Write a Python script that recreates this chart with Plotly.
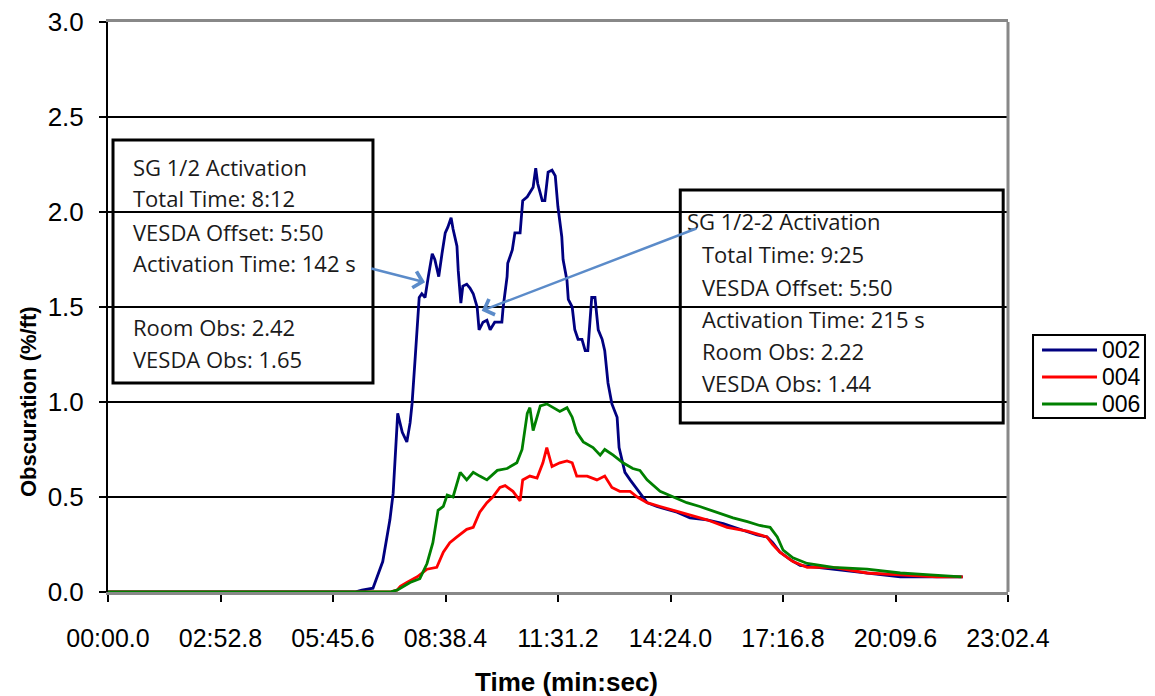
import plotly.graph_objects as go

# Obscuration readings (%/ft) against elapsed time (seconds)
t_002 = [0, 379, 390, 407, 422, 433, 438, 441, 445, 452, 459, 464, 467, 472, 478, 482, 487, 492,
         498, 502, 508, 513, 518, 522, 527, 530, 536, 538, 542, 545, 551, 556, 561, 567, 570, 576,
         582, 587, 594, 605, 607, 613, 614, 621, 625, 633, 637, 644, 648, 653, 657, 660, 667, 671,
         676, 682, 687, 691, 697, 699, 705, 707, 713, 717, 722, 728, 733, 737, 743, 748, 753, 759,
         763, 768, 774, 782, 785, 794, 802, 813, 828, 843, 874, 894, 920, 945, 971, 997, 1012,
         1021, 1032, 1048, 1063, 1114, 1166, 1217, 1283, 1313]
v_002 = [0.0, 0.0, 0.01, 0.02, 0.16, 0.38, 0.52, 0.73, 0.94, 0.84, 0.79, 0.89, 0.99, 1.24, 1.55,
         1.57, 1.55, 1.66, 1.78, 1.75, 1.66, 1.78, 1.89, 1.92, 1.97, 1.91, 1.82, 1.69, 1.52, 1.61,
         1.62, 1.60, 1.57, 1.50, 1.38, 1.42, 1.43, 1.38, 1.42, 1.42, 1.50, 1.66, 1.73, 1.80, 1.89,
         1.89, 2.06, 2.08, 2.10, 2.13, 2.23, 2.15, 2.06, 2.06, 2.21, 2.22, 2.19, 2.03, 1.87, 1.75,
         1.64, 1.54, 1.50, 1.38, 1.33, 1.33, 1.27, 1.27, 1.55, 1.55, 1.38, 1.33, 1.27, 1.10, 0.99,
         0.92, 0.76, 0.63, 0.59, 0.54, 0.47, 0.45, 0.42, 0.39, 0.38, 0.36, 0.33, 0.30, 0.29, 0.26,
         0.21, 0.17, 0.14, 0.12, 0.10, 0.08, 0.08, 0.08]

t_004 = [0, 433, 444, 449, 459, 475, 490, 505, 515, 525, 536, 551, 561, 571, 582, 591, 602, 610,
         622, 633, 637, 648, 659, 668, 674, 682, 694, 705, 713, 720, 736, 751, 763, 774, 786, 802,
         813, 828, 848, 868, 889, 920, 951, 982, 1012, 1021, 1032, 1052, 1074, 1114, 1166, 1217,
         1273, 1313]
v_004 = [0.0, 0.0, 0.01, 0.03, 0.05, 0.08, 0.12, 0.13, 0.21, 0.26, 0.29, 0.33, 0.34, 0.42, 0.47,
         0.50, 0.55, 0.56, 0.53, 0.48, 0.59, 0.61, 0.60, 0.68, 0.76, 0.66, 0.68, 0.69, 0.68, 0.61,
         0.61, 0.59, 0.61, 0.55, 0.53, 0.53, 0.50, 0.47, 0.45, 0.43, 0.41, 0.38, 0.34, 0.32, 0.29,
         0.25, 0.21, 0.16, 0.13, 0.13, 0.10, 0.09, 0.08, 0.08]

t_006 = [0, 433, 444, 464, 479, 490, 499, 507, 515, 521, 530, 541, 551, 561, 571, 582, 598, 613,
         628, 636, 644, 648, 653, 664, 674, 684, 694, 705, 713, 720, 730, 745, 756, 763, 776, 791,
         806, 817, 828, 848, 868, 889, 909, 935, 960, 982, 1001, 1017, 1028, 1037, 1052, 1074,
         1114, 1166, 1217, 1263, 1311]
v_006 = [0.0, 0.0, 0.01, 0.05, 0.07, 0.15, 0.26, 0.43, 0.45, 0.51, 0.50, 0.63, 0.59, 0.63, 0.61,
         0.59, 0.64, 0.65, 0.68, 0.75, 0.94, 0.97, 0.85, 0.98, 0.99, 0.97, 0.95, 0.97, 0.92, 0.84,
         0.79, 0.76, 0.72, 0.75, 0.72, 0.68, 0.65, 0.64, 0.59, 0.53, 0.50, 0.47, 0.45, 0.42, 0.39,
         0.37, 0.35, 0.34, 0.29, 0.22, 0.18, 0.15, 0.13, 0.12, 0.10, 0.09, 0.08]

series_names = ["002", "004", "006"]
series_colors = ["#000080", "#FF0000", "#008000"]

x_tick_vals = [0, 172.8, 345.6, 518.4, 691.2, 864.0, 1036.8, 1209.6, 1382.4]
x_tick_text = ["00:00.0", "02:52.8", "05:45.6", "08:38.4", "11:31.2",
               "14:24.0", "17:16.8", "20:09.6", "23:02.4"]

box1_lines = ["SG 1/2 Activation", "Total Time: 8:12", "VESDA Offset: 5:50",
              "Activation Time: 142 s", "Room Obs: 2.42", "VESDA Obs: 1.65"]
box1_rows = [2.237, 2.074, 1.895, 1.732, 1.395, 1.226]
box2_lines = ["SG 1/2-2 Activation", "Total Time: 9:25", "VESDA Offset: 5:50",
              "Activation Time: 215 s", "Room Obs: 2.22", "VESDA Obs: 1.44"]
box2_rows = [1.953, 1.779, 1.605, 1.437, 1.268, 1.100]

fig = go.Figure()
for t, v, name, color in zip([t_002, t_004, t_006], [v_002, v_004, v_006],
                             series_names, series_colors):
    fig.add_trace(go.Scatter(x=t, y=v, mode="lines", name=name,
                             line=dict(color=color, width=2.8)))

box_font = dict(family="Open Sans", size=22, color="#1a1a1a")
annotations = []
for txt, yv in zip(box1_lines, box1_rows):
    annotations.append(dict(x=35, y=yv, xref="x", yref="y", text=txt, showarrow=False,
                            xanchor="left", yanchor="middle", font=box_font))
for i, (txt, yv) in enumerate(zip(box2_lines, box2_rows)):
    annotations.append(dict(x=886 if i == 0 else 909, y=yv, xref="x", yref="y", text=txt,
                            showarrow=False, xanchor="left", yanchor="middle", font=box_font))

# Pointer arrows from the text boxes to the curve
arrow_color = "#5B8BC9"
annotations.append(dict(x=487, y=1.63, ax=402, ay=1.705, xref="x", yref="y", axref="x", ayref="y",
                        text="", showarrow=True, arrowhead=4, arrowsize=1.3, arrowwidth=2.5,
                        arrowcolor=arrow_color))
annotations.append(dict(x=574, y=1.48, ax=906, ay=1.916, xref="x", yref="y", axref="x", ayref="y",
                        text="", showarrow=True, arrowhead=4, arrowsize=1.3, arrowwidth=2.5,
                        arrowcolor=arrow_color))

# Axis titles
annotations.append(dict(x=0.509, y=-0.158, xref="paper", yref="paper", text="<b>Time (min:sec)</b>",
                        showarrow=False, xanchor="center", yanchor="middle",
                        font=dict(family="Liberation Sans", size=26, color="black")))
annotations.append(dict(x=-0.0889, y=0.335, xref="paper", yref="paper",
                        text="<b>Obscuration (%/ft)</b>", textangle=-90, showarrow=False,
                        xanchor="center", yanchor="middle",
                        font=dict(family="Liberation Sans", size=22, color="black")))

# Legend box with line samples
legend_rows = [0.4246, 0.3772, 0.3298]
for name, color, yr in zip(series_names, series_colors, legend_rows):
    annotations.append(dict(x=1.1022, y=yr, xref="paper", yref="paper", text=name,
                            showarrow=False, xanchor="left", yanchor="middle",
                            font=dict(family="Liberation Sans", size=23, color="black")))

shapes = [
    dict(type="rect", xref="x", yref="y", x0=7.7, x1=407, y0=1.10, y1=2.379,
         line=dict(color="black", width=3), fillcolor="rgba(255,255,255,0)", layer="above"),
    dict(type="rect", xref="x", yref="y", x0=879, x1=1375, y0=0.889, y1=2.116,
         line=dict(color="black", width=3), fillcolor="rgba(255,255,255,0)", layer="above"),
    dict(type="line", xref="paper", yref="paper", x0=1, x1=1, y0=0, y1=1,
         line=dict(color="#888888", width=3)),
    dict(type="rect", xref="paper", yref="paper", x0=1.0278, x1=1.1522, y0=0.3053, y1=0.4509,
         line=dict(color="black", width=2), fillcolor="white"),
]
for color, yr in zip(series_colors, legend_rows):
    shapes.append(dict(type="line", xref="paper", yref="paper", x0=1.0378, x1=1.0989,
                       y0=yr, y1=yr, line=dict(color=color, width=3)))

fig.update_layout(
    width=1155, height=696,
    margin=dict(l=108, r=147, t=22, b=104),
    paper_bgcolor="white", plot_bgcolor="white",
    font=dict(family="Liberation Sans", color="black"),
    showlegend=False,
    annotations=annotations,
    shapes=shapes,
)
fig.update_xaxes(range=[0, 1382.4], tickvals=x_tick_vals, ticktext=x_tick_text,
                 showgrid=False, zeroline=False, showline=True, linecolor="#888888",
                 linewidth=3, mirror=True, ticks="outside", ticklen=7, tickcolor="black",
                 tickwidth=2, tickfont=dict(size=25), ticklabelstandoff=15, automargin=False)
fig.update_yaxes(range=[0, 3], dtick=0.5, tickformat=".1f", showgrid=True, gridcolor="black",
                 gridwidth=2, zeroline=False, showline=True, linecolor="black", linewidth=2,
                 ticks="outside", ticklen=7, tickcolor="black", tickwidth=2,
                 tickfont=dict(size=26), ticklabelstandoff=10, automargin=False)

fig.write_html("out.html")
